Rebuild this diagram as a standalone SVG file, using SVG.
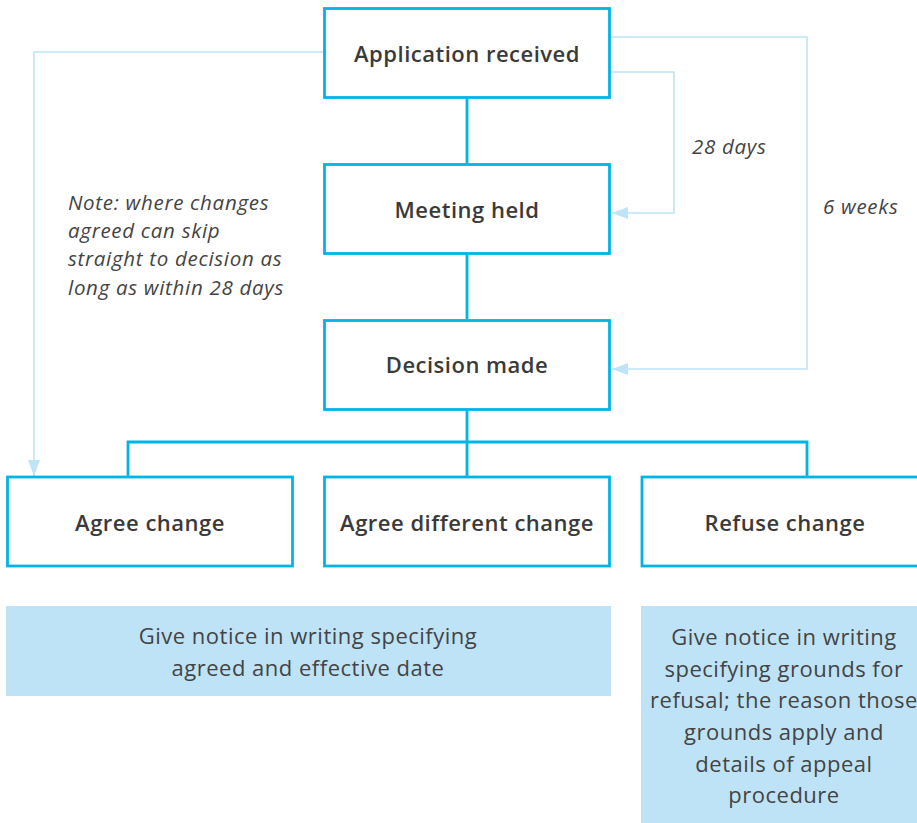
<svg xmlns="http://www.w3.org/2000/svg" width="917" height="823" viewBox="0 0 917 823">
<style>
.box{fill:#fff;stroke:#00b4e6;stroke-width:2.8}
.note{fill:#bee3f7}
.lbl{font-family:"Open Sans","Liberation Sans",sans-serif;font-weight:600;font-size:22px;letter-spacing:0.5px;fill:#3a3a3a;text-anchor:middle}
.body{font-family:"Open Sans","Liberation Sans",sans-serif;font-size:22px;letter-spacing:0.5px;fill:#444;text-anchor:middle}
.it{font-family:"Open Sans","Liberation Sans",sans-serif;font-style:italic;font-size:20.5px;letter-spacing:0.7px;fill:#444}
.main{fill:none;stroke:#00b4e6;stroke-width:2.8}
.thin{fill:none;stroke:#bfe3f7;stroke-width:1.6}
</style>
<defs>
<marker id="ah" markerUnits="userSpaceOnUse" markerWidth="16" markerHeight="12" refX="16" refY="6" orient="auto" viewBox="0 0 16 12">
<path d="M0,0 L16,6 L0,12 z" fill="#bfe3f7"/>
</marker>
</defs>
<g id="connectors">
<path class="main" d="M467,97 V164 M467,254 V320 M467,409 V442 M128,477 V442 H807 V477 M467,442 V477"/>
<path class="thin" d="M324,52 H34 V476" marker-end="url(#ah)"/>
<path class="thin" d="M610,72 H674 V213 H612" marker-end="url(#ah)"/>
<path class="thin" d="M610,37 H807 V369 H612" marker-end="url(#ah)"/>
<text class="it" x="692" y="154">28 days</text>
<text class="it" x="823" y="214">6 weeks</text>
<text class="it" x="68" y="210">Note: where changes</text>
<text class="it" x="68" y="238">agreed can skip</text>
<text class="it" x="68" y="266">straight to decision as</text>
<text class="it" x="68" y="295">long as within 28 days</text>
</g>
<g id="app"><rect class="box" x="324.5" y="8.5" width="285" height="89"/><text class="lbl" x="467" y="62">Application received</text></g>
<g id="meeting"><rect class="box" x="324.5" y="164.5" width="285" height="89"/><text class="lbl" x="467" y="218">Meeting held</text></g>
<g id="decision"><rect class="box" x="324.5" y="320.5" width="285" height="89"/><text class="lbl" x="467" y="373">Decision made</text></g>
<g id="agree"><rect class="box" x="7.5" y="477" width="285" height="89"/><text class="lbl" x="150" y="531">Agree change</text></g>
<g id="agreediff"><rect class="box" x="324.5" y="477" width="285" height="89"/><text class="lbl" x="467" y="531">Agree different change</text></g>
<g id="refuse"><rect class="box" x="642" y="477" width="285" height="89"/><text class="lbl" x="785" y="531">Refuse change</text></g>
<g id="notice1"><rect class="note" x="6" y="606" width="605" height="90"/><text class="body" x="308" y="644">Give notice in writing specifying</text><text class="body" x="308" y="676">agreed and effective date</text></g>
<g id="notice2"><rect class="note" x="641" y="606" width="286" height="217"/>
<text class="body" x="784" y="645">Give notice in writing</text>
<text class="body" x="784" y="677">specifying grounds for</text>
<text class="body" x="784" y="708">refusal; the reason those</text>
<text class="body" x="784" y="740">grounds apply and</text>
<text class="body" x="784" y="772">details of appeal</text>
<text class="body" x="784" y="803">procedure</text>
</g>
</svg>
